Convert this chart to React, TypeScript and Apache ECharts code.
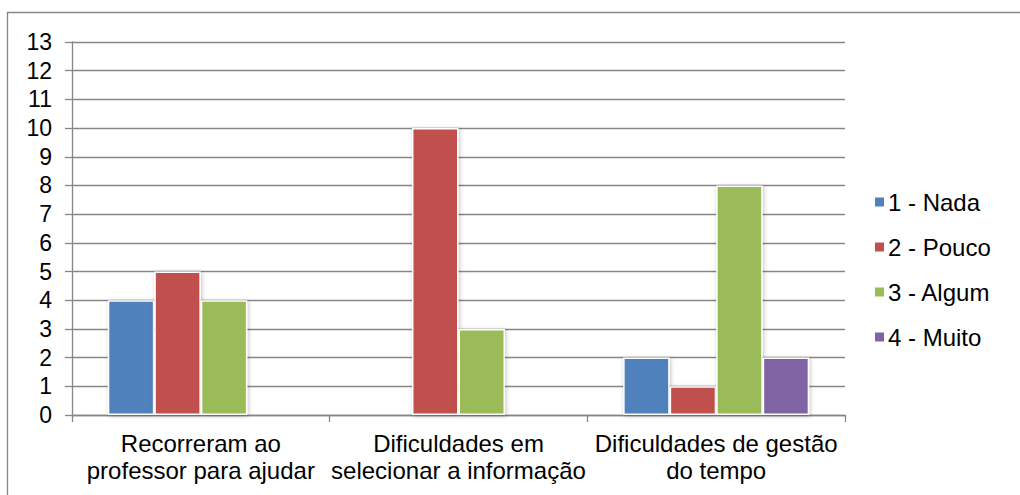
import React, { useEffect, useRef } from "react";
import * as echarts from "echarts";

const categories = [
  "Recorreram ao\nprofessor para ajudar",
  "Dificuldades em\nselecionar a informação",
  "Dificuldades de gestão\ndo tempo",
];
const seriesNames = ["1 - Nada", "2 - Pouco", "3 - Algum", "4 - Muito"];
const seriesColors = ["#4F81BD", "#C0504D", "#9BBB59", "#8064A2"];
const nada = [4, null, 2];
const pouco = [5, 10, 1];
const algum = [4, 3, 8];
const muito = [null, null, 2];
const seriesValues = [nada, pouco, algum, muito];

const FONT = "'Liberation Sans', Arial, sans-serif";
const GREY = "#868686";

export default function App() {
  const ref = useRef<HTMLDivElement>(null);

  useEffect(() => {
    document.body.style.margin = "0";
    const chart = echarts.init(ref.current!, null, { renderer: "svg" });
    chart.setOption({
      animation: false,
      backgroundColor: "#ffffff",
      textStyle: { fontFamily: FONT, color: "#000" },
      graphic: [
        {
          // chart-area frame: left and top edges
          type: "polyline",
          shape: { points: [[7.5, 800], [7.5, 12.5], [1300, 12.5]] },
          style: { fill: "none", stroke: GREY, lineWidth: 1.3 },
          silent: true,
        },
      ],
      grid: { left: 72, right: 175, top: 42, bottom: 80 },
      legend: {
        orient: "vertical",
        left: 873,
        top: 190,
        padding: 0,
        itemWidth: 11,
        itemHeight: 11,
        itemGap: 21,
        icon: "rect",
        data: seriesNames,
        textStyle: {
          fontFamily: FONT,
          fontSize: 24,
          color: "#000",
          lineHeight: 23,
          padding: [0, 0, 0, -2],
        },
      },
      xAxis: {
        type: "category",
        data: categories,
        axisLine: { lineStyle: { color: GREY, width: 1.3 } },
        axisTick: { show: true, length: 7, lineStyle: { color: GREY, width: 1.3 } },
        axisLabel: {
          interval: 0,
          margin: 15,
          fontFamily: FONT,
          fontSize: 24,
          lineHeight: 27,
          color: "#000",
        },
      },
      yAxis: {
        type: "value",
        min: 0,
        max: 13,
        interval: 1,
        axisLine: { show: true, lineStyle: { color: GREY, width: 1.3 } },
        axisTick: { show: true, length: 7, lineStyle: { color: GREY, width: 1.3 } },
        axisLabel: { margin: 20, fontFamily: FONT, fontSize: 23, color: "#000" },
        splitLine: { lineStyle: { color: GREY, width: 1.3 } },
      },
      series: seriesNames.map((name, i) => ({
        name,
        type: "bar",
        data: seriesValues[i],
        barGap: "0%",
        barCategoryGap: "27.8%",
        itemStyle: {
          color: seriesColors[i],
          borderColor: "#ffffff",
          borderWidth: 1.5,
          shadowBlur: 4,
          shadowColor: "rgba(0,0,0,0.25)",
          shadowOffsetX: 1,
          shadowOffsetY: 1,
        },
      })),
    });
    return () => chart.dispose();
  }, []);

  return <div ref={ref} style={{ width: 1020, height: 495 }} />;
}
